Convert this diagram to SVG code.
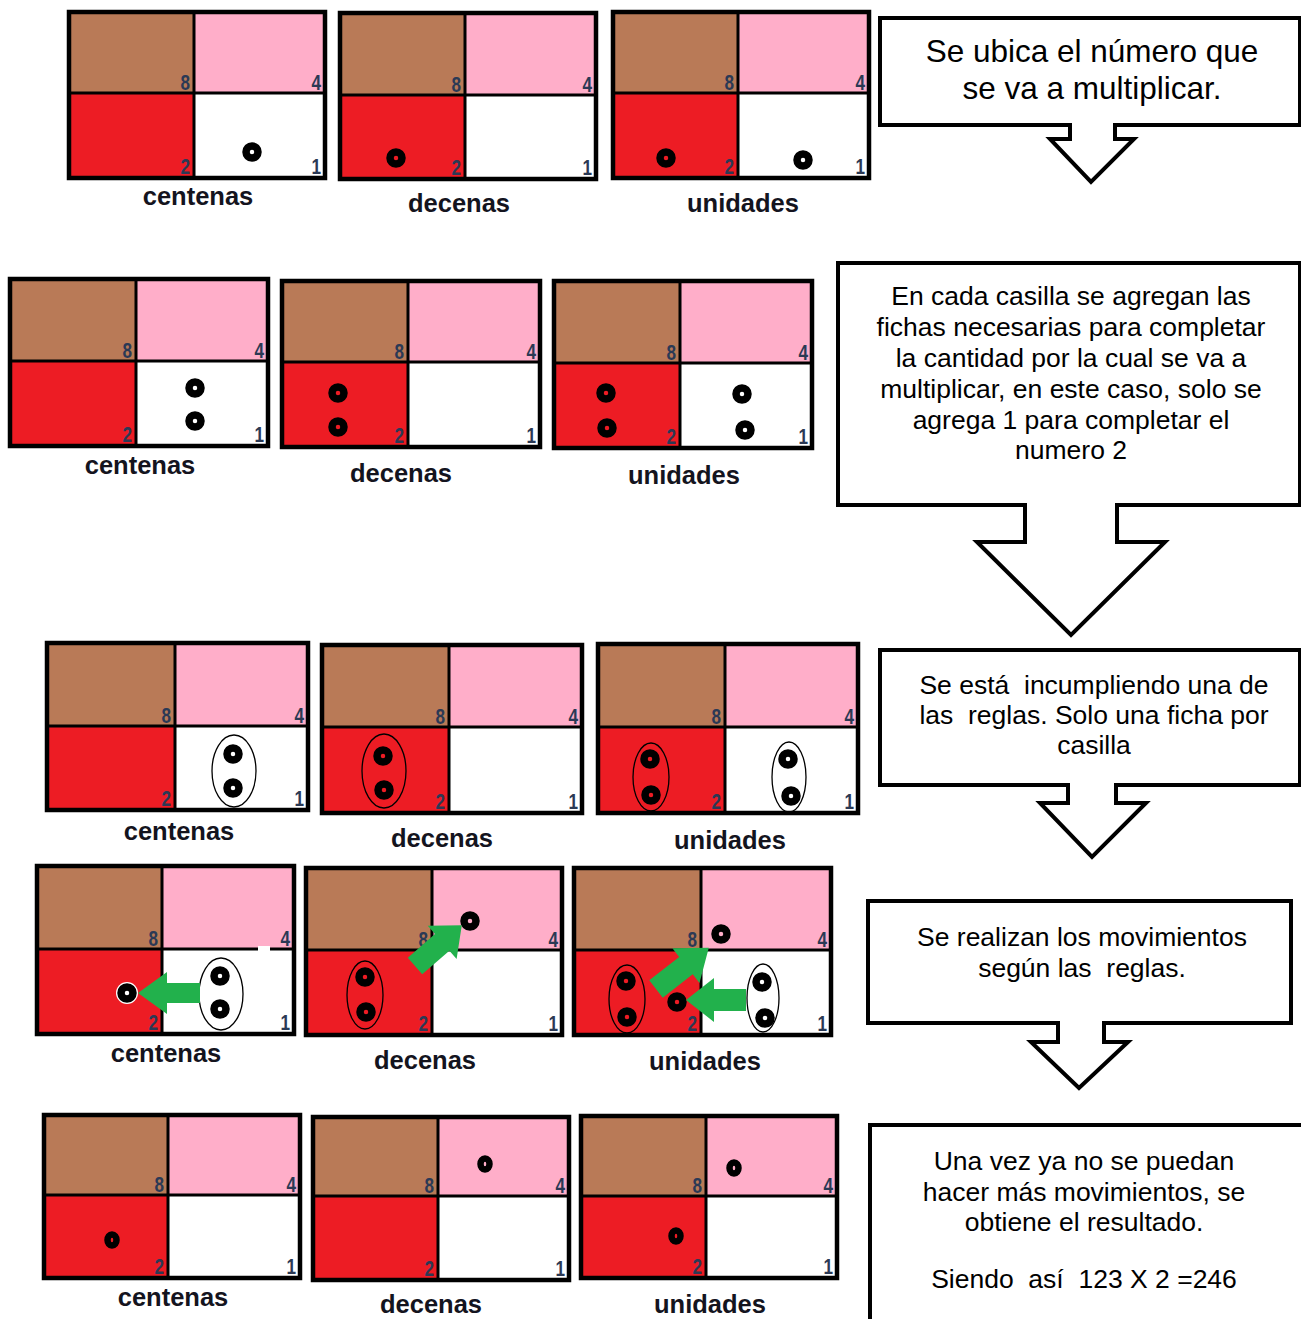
<svg xmlns="http://www.w3.org/2000/svg" width="1301" height="1319" viewBox="0 0 1301 1319">
<style>
.brown{fill:#b97a57}.pink{fill:#ffaec9}.red{fill:#ed1c24}.white{fill:#fff}
.frame{fill:none;stroke:#000;stroke-width:4.5}
.div{fill:none;stroke:#000;stroke-width:3}
.dg{font-family:"Liberation Sans",Arial,sans-serif;font-weight:bold;font-size:22px;fill:#2b3955;text-anchor:end;transform-box:fill-box;transform-origin:100% 100%;transform:scaleX(0.78)}
.lbl{font-family:"Liberation Sans",Arial,sans-serif;font-weight:bold;font-size:25.5px;fill:#14141e;text-anchor:middle}
.tk{fill:none;stroke:#000;stroke-width:7.5}
.el{fill:none;stroke:#000;stroke-width:1.3}
.ga{fill:#22b14c}
.co{fill:#fff;stroke:#000;stroke-width:4;stroke-linejoin:miter}
.ct{font-family:"Liberation Sans",Arial,sans-serif;font-size:26.5px;fill:#000;text-anchor:middle;white-space:pre}
.ct1{font-size:31.5px}
</style>
<defs><circle id="tok" r="6" class="tk"/></defs>
<rect width="1301" height="1319" fill="#fff"/>

<!-- Row 1 -->
<g id="r1-centenas">
<rect class="brown" x="69" y="12" width="125" height="81"/><rect class="pink" x="194" y="12" width="131" height="81"/>
<rect class="red" x="69" y="93" width="125" height="85"/><rect class="white" x="194" y="93" width="131" height="85"/>
<path class="div" d="M194 12V178M69 93H325"/><rect class="frame" x="69" y="12" width="256" height="166"/>
<text class="dg" x="190" y="90">8</text><text class="dg" x="321" y="90">4</text><text class="dg" x="190" y="174">2</text><text class="dg" x="321" y="174">1</text>
<use href="#tok" x="252" y="152"/>
<text class="lbl" x="198" y="205">centenas</text>
</g>
<g id="r1-decenas">
<rect class="brown" x="340" y="13" width="125" height="82"/><rect class="pink" x="465" y="13" width="131" height="82"/>
<rect class="red" x="340" y="95" width="125" height="84"/><rect class="white" x="465" y="95" width="131" height="84"/>
<path class="div" d="M465 13V179M340 95H596"/><rect class="frame" x="340" y="13" width="256" height="166"/>
<text class="dg" x="461" y="92">8</text><text class="dg" x="592" y="92">4</text><text class="dg" x="461" y="175">2</text><text class="dg" x="592" y="175">1</text>
<use href="#tok" x="396" y="158"/>
<text class="lbl" x="459" y="212">decenas</text>
</g>
<g id="r1-unidades">
<rect class="brown" x="613" y="12" width="125" height="81"/><rect class="pink" x="738" y="12" width="131" height="81"/>
<rect class="red" x="613" y="93" width="125" height="85"/><rect class="white" x="738" y="93" width="131" height="85"/>
<path class="div" d="M738 12V178M613 93H869"/><rect class="frame" x="613" y="12" width="256" height="166"/>
<text class="dg" x="734" y="90">8</text><text class="dg" x="865" y="90">4</text><text class="dg" x="734" y="174">2</text><text class="dg" x="865" y="174">1</text>
<use href="#tok" x="666" y="158"/><use href="#tok" x="803" y="160"/>
<text class="lbl" x="743" y="212">unidades</text>
</g>

<!-- Row 2 -->
<g id="r2-centenas">
<rect class="brown" x="10" y="279" width="126" height="82"/><rect class="pink" x="136" y="279" width="132" height="82"/>
<rect class="red" x="10" y="361" width="126" height="85"/><rect class="white" x="136" y="361" width="132" height="85"/>
<path class="div" d="M136 279V446M10 361H268"/><rect class="frame" x="10" y="279" width="258" height="167"/>
<text class="dg" x="132" y="358">8</text><text class="dg" x="264" y="358">4</text><text class="dg" x="132" y="442">2</text><text class="dg" x="264" y="442">1</text>
<use href="#tok" x="195" y="388"/><use href="#tok" x="195" y="421"/>
<text class="lbl" x="140" y="474">centenas</text>
</g>
<g id="r2-decenas">
<rect class="brown" x="282" y="281" width="126" height="81"/><rect class="pink" x="408" y="281" width="132" height="81"/>
<rect class="red" x="282" y="362" width="126" height="85"/><rect class="white" x="408" y="362" width="132" height="85"/>
<path class="div" d="M408 281V447M282 362H540"/><rect class="frame" x="282" y="281" width="258" height="166"/>
<text class="dg" x="404" y="359">8</text><text class="dg" x="536" y="359">4</text><text class="dg" x="404" y="443">2</text><text class="dg" x="536" y="443">1</text>
<use href="#tok" x="338" y="393"/><use href="#tok" x="338" y="427"/>
<text class="lbl" x="401" y="482">decenas</text>
</g>
<g id="r2-unidades">
<rect class="brown" x="554" y="281" width="126" height="82"/><rect class="pink" x="680" y="281" width="132" height="82"/>
<rect class="red" x="554" y="363" width="126" height="85"/><rect class="white" x="680" y="363" width="132" height="85"/>
<path class="div" d="M680 281V448M554 363H812"/><rect class="frame" x="554" y="281" width="258" height="167"/>
<text class="dg" x="676" y="360">8</text><text class="dg" x="808" y="360">4</text><text class="dg" x="676" y="444">2</text><text class="dg" x="808" y="444">1</text>
<use href="#tok" x="606" y="393"/><use href="#tok" x="607" y="428"/>
<use href="#tok" x="742" y="394"/><use href="#tok" x="745" y="430"/>
<text class="lbl" x="684" y="484">unidades</text>
</g>

<!-- Row 3 -->
<g id="r3-centenas">
<rect class="brown" x="47" y="643" width="128" height="83"/><rect class="pink" x="175" y="643" width="133" height="83"/>
<rect class="red" x="47" y="726" width="128" height="84"/><rect class="white" x="175" y="726" width="133" height="84"/>
<path class="div" d="M175 643V810M47 726H308"/><rect class="frame" x="47" y="643" width="261" height="167"/>
<text class="dg" x="171" y="723">8</text><text class="dg" x="304" y="723">4</text><text class="dg" x="171" y="806">2</text><text class="dg" x="304" y="806">1</text>
<ellipse class="el" cx="234" cy="771" rx="22" ry="36"/>
<use href="#tok" x="233" y="754"/><use href="#tok" x="233" y="788"/>
<text class="lbl" x="179" y="840">centenas</text>
</g>
<g id="r3-decenas">
<rect class="brown" x="322" y="645" width="127" height="82"/><rect class="pink" x="449" y="645" width="133" height="82"/>
<rect class="red" x="322" y="727" width="127" height="86"/><rect class="white" x="449" y="727" width="133" height="86"/>
<path class="div" d="M449 645V813M322 727H582"/><rect class="frame" x="322" y="645" width="260" height="168"/>
<text class="dg" x="445" y="724">8</text><text class="dg" x="578" y="724">4</text><text class="dg" x="445" y="809">2</text><text class="dg" x="578" y="809">1</text>
<ellipse class="el" cx="384" cy="771" rx="22" ry="37"/>
<use href="#tok" x="383" y="756"/><use href="#tok" x="384" y="790"/>
<text class="lbl" x="442" y="847">decenas</text>
</g>
<g id="r3-unidades">
<rect class="brown" x="598" y="644" width="127" height="83"/><rect class="pink" x="725" y="644" width="133" height="83"/>
<rect class="red" x="598" y="727" width="127" height="86"/><rect class="white" x="725" y="727" width="133" height="86"/>
<path class="div" d="M725 644V813M598 727H858"/><rect class="frame" x="598" y="644" width="260" height="169"/>
<text class="dg" x="721" y="724">8</text><text class="dg" x="854" y="724">4</text><text class="dg" x="721" y="809">2</text><text class="dg" x="854" y="809">1</text>
<ellipse class="el" cx="651" cy="777" rx="18" ry="34"/>
<use href="#tok" x="650" y="759"/><use href="#tok" x="651" y="795"/>
<ellipse class="el" cx="789" cy="777" rx="17" ry="35"/>
<use href="#tok" x="788" y="759"/><use href="#tok" x="791" y="796"/>
<text class="lbl" x="730" y="849">unidades</text>
</g>

<!-- Row 4 -->
<g id="r4-centenas">
<rect class="brown" x="37" y="866" width="125" height="83"/><rect class="pink" x="162" y="866" width="132" height="83"/>
<rect class="red" x="37" y="949" width="125" height="85"/><rect class="white" x="162" y="949" width="132" height="85"/>
<path class="div" d="M162 866V1034M37 949H294"/><rect class="white" x="258" y="946" width="12" height="5"/>
<rect class="frame" x="37" y="866" width="257" height="168"/>
<text class="dg" x="158" y="946">8</text><text class="dg" x="290" y="946">4</text><text class="dg" x="158" y="1030">2</text><text class="dg" x="290" y="1030">1</text>
<ellipse class="el" cx="221" cy="994" rx="22" ry="36"/>
<use href="#tok" x="220" y="976"/><use href="#tok" x="220" y="1009"/>
<circle cx="127" cy="993" r="11" fill="#fff"/><use href="#tok" x="127" y="993"/>
<text class="lbl" x="166" y="1062">centenas</text>
</g>
<g id="r4-decenas">
<rect class="brown" x="306" y="868" width="126" height="82"/><rect class="pink" x="432" y="868" width="130" height="82"/>
<rect class="red" x="306" y="950" width="126" height="85"/><rect class="white" x="432" y="950" width="130" height="85"/>
<path class="div" d="M432 868V1035M306 950H562"/><rect class="frame" x="306" y="868" width="256" height="167"/>
<text class="dg" x="428" y="947">8</text><text class="dg" x="558" y="947">4</text><text class="dg" x="428" y="1031">2</text><text class="dg" x="558" y="1031">1</text>
<ellipse class="el" cx="365" cy="995" rx="18" ry="34"/>
<use href="#tok" x="365" y="977"/><use href="#tok" x="366" y="1012"/>
<use href="#tok" x="470" y="921"/>
<text class="lbl" x="425" y="1069">decenas</text>
</g>
<g id="r4-unidades">
<rect class="brown" x="574" y="868" width="127" height="82"/><rect class="pink" x="701" y="868" width="130" height="82"/>
<rect class="red" x="574" y="950" width="127" height="85"/><rect class="white" x="701" y="950" width="130" height="85"/>
<path class="div" d="M701 868V1035M574 950H831"/><rect class="frame" x="574" y="868" width="257" height="167"/>
<text class="dg" x="697" y="947">8</text><text class="dg" x="827" y="947">4</text><text class="dg" x="697" y="1031">2</text><text class="dg" x="827" y="1031">1</text>
<ellipse class="el" cx="627" cy="999" rx="18" ry="34"/>
<use href="#tok" x="626" y="981"/><use href="#tok" x="627" y="1017"/>
<ellipse class="el" cx="763" cy="998" rx="16" ry="34"/>
<use href="#tok" x="762" y="982"/><use href="#tok" x="765" y="1018"/>
<use href="#tok" x="677" y="1002"/><use href="#tok" x="721" y="934"/>
<text class="lbl" x="705" y="1070">unidades</text>
</g>

<!-- Row 5 -->
<g id="r5-centenas">
<rect class="brown" x="44" y="1115" width="124" height="80"/><rect class="pink" x="168" y="1115" width="132" height="80"/>
<rect class="red" x="44" y="1195" width="124" height="83"/><rect class="white" x="168" y="1195" width="132" height="83"/>
<path class="div" d="M168 1115V1278M44 1195H300"/><rect class="frame" x="44" y="1115" width="256" height="163"/>
<text class="dg" x="164" y="1192">8</text><text class="dg" x="296" y="1192">4</text><text class="dg" x="164" y="1274">2</text><text class="dg" x="296" y="1274">1</text>
<ellipse class="tk" cx="112" cy="1240" rx="4.5" ry="5.5" style="stroke-width:6.5"/>
<text class="lbl" x="173" y="1306">centenas</text>
</g>
<g id="r5-decenas">
<rect class="brown" x="313" y="1117" width="125" height="79"/><rect class="pink" x="438" y="1117" width="131" height="79"/>
<rect class="red" x="313" y="1196" width="125" height="84"/><rect class="white" x="438" y="1196" width="131" height="84"/>
<path class="div" d="M438 1117V1280M313 1196H569"/><rect class="frame" x="313" y="1117" width="256" height="163"/>
<text class="dg" x="434" y="1193">8</text><text class="dg" x="565" y="1193">4</text><text class="dg" x="434" y="1276">2</text><text class="dg" x="565" y="1276">1</text>
<ellipse class="tk" cx="485" cy="1164" rx="4.5" ry="5.5" style="stroke-width:6.5"/>
<text class="lbl" x="431" y="1313">decenas</text>
</g>
<g id="r5-unidades">
<rect class="brown" x="581" y="1116" width="125" height="80"/><rect class="pink" x="706" y="1116" width="131" height="80"/>
<rect class="red" x="581" y="1196" width="125" height="82"/><rect class="white" x="706" y="1196" width="131" height="82"/>
<path class="div" d="M706 1116V1278M581 1196H837"/><rect class="frame" x="581" y="1116" width="256" height="162"/>
<text class="dg" x="702" y="1193">8</text><text class="dg" x="833" y="1193">4</text><text class="dg" x="702" y="1274">2</text><text class="dg" x="833" y="1274">1</text>
<ellipse class="tk" cx="734" cy="1168" rx="4.5" ry="5.5" style="stroke-width:6.5"/>
<ellipse class="tk" cx="676" cy="1236" rx="4.5" ry="5.5" style="stroke-width:6.5"/>
<text class="lbl" x="710" y="1313">unidades</text>
</g>

<!-- Green movement arrows -->
<g id="connectors">
<polygon class="ga" points="200,983 167,983 167,972 138,993 167,1014 167,1003 200,1003"/>
<polygon class="ga" transform="translate(415,966) rotate(-41)" points="0,-11 36,-11 36,-22 62,0 36,22 36,11 0,11"/>
<polygon class="ga" transform="translate(656,989) rotate(-38)" points="0,-11 38,-11 38,-22 67,0 38,22 38,11 0,11"/>
<polygon class="ga" points="746,989 714,989 714,978 686,1000 714,1022 714,1011 746,1011"/>
</g>

<!-- Callouts -->
<g id="callout-1">
<path class="co" d="M880 18H1300V125H1115V139H1134L1091 182L1050 139H1070V125H880Z"/>
<text class="ct ct1" x="1092" y="62">Se ubica el número que</text>
<text class="ct ct1" x="1092" y="99">se va a multiplicar.</text>
</g>
<g id="callout-2">
<path class="co" d="M838 263H1300V505H1117V542H1165L1071 635L977 542H1025V505H838Z"/>
<text class="ct" x="1071" y="305">En cada casilla se agregan las</text>
<text class="ct" x="1071" y="336">fichas necesarias para completar</text>
<text class="ct" x="1071" y="367">la cantidad por la cual se va a</text>
<text class="ct" x="1071" y="398">multiplicar, en este caso, solo se</text>
<text class="ct" x="1071" y="429">agrega 1 para completar el</text>
<text class="ct" x="1071" y="459">numero 2</text>
</g>
<g id="callout-3">
<path class="co" d="M880 650H1300V785H1116V803H1146L1092 857L1040 803H1068V785H880Z"/>
<text class="ct" x="1094" y="694">Se está  incumpliendo una de</text>
<text class="ct" x="1094" y="724">las  reglas. Solo una ficha por</text>
<text class="ct" x="1094" y="754">casilla</text>
</g>
<g id="callout-4">
<path class="co" d="M868 901H1291V1023H1104V1042H1128L1079 1088L1031 1042H1058V1023H868Z"/>
<text class="ct" x="1082" y="946">Se realizan los movimientos</text>
<text class="ct" x="1082" y="977">según las  reglas.</text>
</g>
<g id="callout-5">
<rect class="co" x="870" y="1125" width="440" height="210"/>
<text class="ct" x="1084" y="1170">Una vez ya no se puedan</text>
<text class="ct" x="1084" y="1201">hacer más movimientos, se</text>
<text class="ct" x="1084" y="1231">obtiene el resultado.</text>
<text class="ct" x="1084" y="1288">Siendo  así  123 X 2 =246</text>
</g>
</svg>
